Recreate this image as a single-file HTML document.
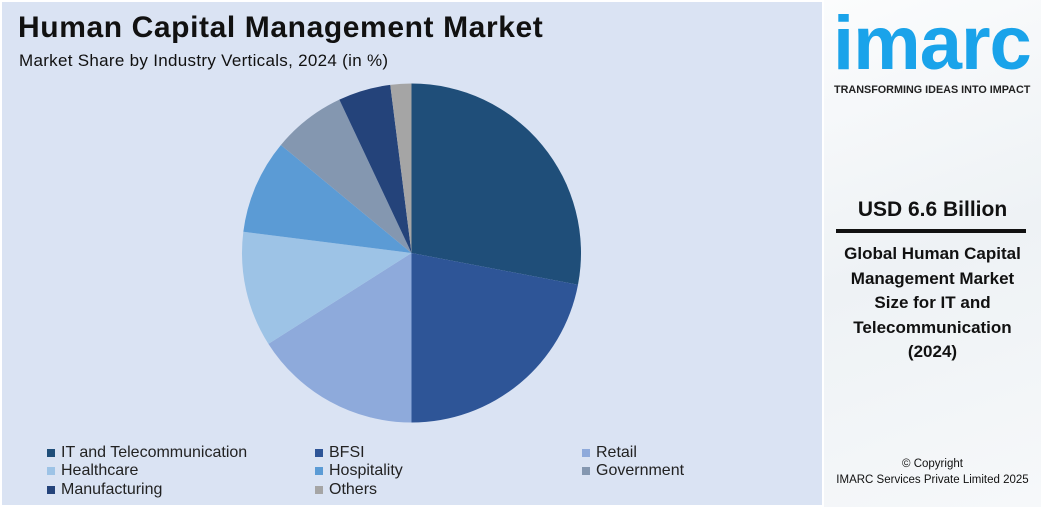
<!DOCTYPE html>
<html><head><meta charset="utf-8"><style>
body{margin:0;width:1041px;height:507px;overflow:hidden;background:#fff;font-family:"Liberation Sans",sans-serif;position:relative}
#panel{position:absolute;left:2px;top:2px;width:820px;height:503px;background:#dae3f3}
#title{position:absolute;left:18px;top:11px;font-size:30px;font-weight:bold;color:#111;letter-spacing:0.6px}
#sub{position:absolute;left:19px;top:51px;font-size:17px;color:#111;letter-spacing:0.3px}
.leg{position:absolute;font-size:16px;color:#222;display:flex;align-items:center;white-space:nowrap}
.leg i{display:inline-block;width:8px;height:8px;margin-right:6px}
#side{position:absolute;left:824px;top:0;width:217px;height:507px;background:linear-gradient(160deg,#fbfcfd 0%,#eef2f5 50%,#f6f8fa 100%)}
.c{position:absolute;width:217px;text-align:center;color:#111}
</style></head><body>
<div id="panel"></div>
<div id="title">Human Capital Management Market</div>
<div id="sub">Market Share by Industry Verticals, 2024 (in %)</div>
<svg id="pie" width="1041" height="507" style="position:absolute;left:0;top:0"></svg>
<div id="legend"></div>
<div id="side">
<div style="position:absolute;left:9px;top:6px;font-size:76px;line-height:76px;font-weight:bold;color:#1aa3ea;letter-spacing:-1px">imarc</div>
<div style="position:absolute;left:10px;top:84px;font-size:10.8px;font-weight:bold;color:#222;white-space:nowrap">TRANSFORMING IDEAS INTO IMPACT</div>
<div class="c" style="top:198px;font-size:21px;font-weight:bold">USD 6.6 Billion</div>
<div style="position:absolute;left:12px;top:229px;width:190px;height:4px;background:#111"></div>
<div class="c" style="top:242px;font-size:17px;font-weight:bold;line-height:24.5px">Global Human Capital<br>Management Market<br>Size for IT and<br>Telecommunication<br>(2024)</div>
<div class="c" style="top:456px;font-size:11.5px;line-height:16px">© Copyright<br>IMARC Services Private Limited 2025</div>
</div>
<script>
const categories=["IT and Telecommunication","BFSI","Retail","Healthcare","Hospitality","Government","Manufacturing","Others"];
const values=[28,22,16,11,9,7,5,2];
const colors=["#1f4e79","#2e5597","#8eaadb","#9dc3e6","#5b9bd5","#8497b0","#24437a","#a5a5a5"];
const NS="http://www.w3.org/2000/svg";
const svg=document.getElementById('pie');
const cx=411.5,cy=253,r=169.5;
const total=values.reduce((a,b)=>a+b,0);
function pt(a){return [cx+r*Math.sin(a),cy-r*Math.cos(a)];}
let acc=0;
values.forEach((v,i)=>{
  const a0=acc/total*2*Math.PI;acc+=v;const a1=acc/total*2*Math.PI;
  const p0=pt(a0),p1=pt(a1);
  const path=document.createElementNS(NS,'path');
  path.setAttribute('d',`M${cx},${cy}L${p0[0]},${p0[1]}A${r},${r} 0 ${a1-a0>Math.PI?1:0} 1 ${p1[0]},${p1[1]}Z`);
  path.setAttribute('fill',colors[i]);
  
  
  svg.appendChild(path);
});
const leg=document.getElementById('legend');
const colX=[47,315,582],rowY=[453,471,490];
categories.forEach((c,i)=>{
  const d=document.createElement('div');d.className='leg';
  
  
  d.style.left=colX[i%3]+'px';d.style.top=(rowY[Math.floor(i/3)]-9)+'px';
  d.innerHTML=`<i style="background:${colors[i]}"></i>${c}`;
  leg.appendChild(d);
});
</script>
</body></html>
